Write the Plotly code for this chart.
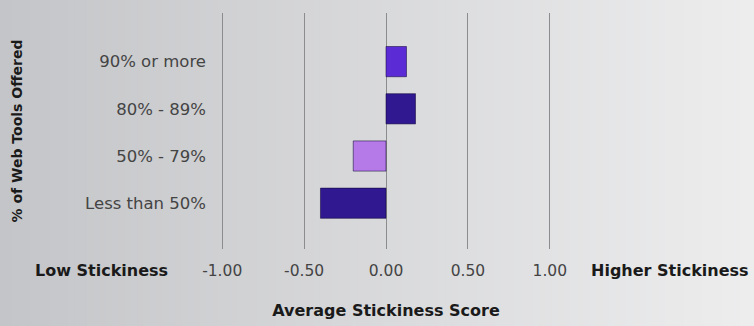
import plotly.graph_objects as go

# Survey groups and their average stickiness scores
categories = ["Less than 50%", "50% - 79%", "80% - 89%", "90% or more"]
scores = [-0.40, -0.20, 0.18, 0.125]
bar_colors = ["#2f1890", "#b57ae8", "#2f1890", "#5b2bd6"]
tick_values = [-1.0, -0.5, 0.0, 0.5, 1.0]
tick_labels = ["-1.00", "-0.50", "0.00", "0.50", "1.00"]

W, H = 754, 326
ML, MR, MT, MB = 214, 196, 13, 77
XMIN, XMAX = -1.05, 1.05

fig = go.Figure()
fig.add_trace(go.Bar(
    x=scores,
    y=list(range(len(categories))),
    orientation="h",
    width=0.64,
    marker=dict(color=bar_colors, line=dict(color="rgba(20,10,60,0.55)", width=1)),
    hoverinfo="skip",
))

# Horizontal grey gradient background built from thin strips
shapes = []
n = 120
plot_w = W - ML - MR
plot_h = H - MT - MB
left_c = (196, 197, 200)
right_c = (237, 237, 238)
for i in range(n):
    t = i / (n - 1)
    c = tuple(round(left_c[k] + (right_c[k] - left_c[k]) * t) for k in range(3))
    px0 = W * i / n - 1
    px1 = W * (i + 1) / n + 1
    shapes.append(dict(
        type="rect", layer="below", line=dict(width=0),
        xref="paper", yref="paper",
        x0=(px0 - ML) / plot_w, x1=(px1 - ML) / plot_w,
        y0=-MB / plot_h - 0.05, y1=1 + MT / plot_h + 0.05,
        fillcolor="rgb(%d,%d,%d)" % c,
    ))

light_font = "'DejaVu Sans', sans-serif"
bold_font = "'DejaVu Sans', sans-serif"

annotations = [
    dict(text="<b>Low Stickiness</b>", x=170, y=270, xref="paper", yref="paper",
         showarrow=False, xanchor="right", yanchor="middle",
         font=dict(family=bold_font, size=16, color="#1a1a1a")),
    dict(text="<b>Higher Stickiness</b>", x=589, y=270, xref="paper", yref="paper",
         showarrow=False, xanchor="left", yanchor="middle",
         font=dict(family=bold_font, size=16, color="#1a1a1a")),
]
# convert pixel positions to paper coordinates
for a in annotations:
    a["x"] = (a["x"] - ML) / plot_w
    a["y"] = 1 - (a["y"] - MT) / plot_h

fig.update_layout(
    width=W, height=H,
    margin=dict(l=ML, r=MR, t=MT, b=MB, pad=0, autoexpand=False),
    paper_bgcolor="#d8d9da",
    plot_bgcolor="rgba(0,0,0,0)",
    showlegend=False,
    shapes=shapes,
    annotations=annotations,
    xaxis=dict(
        range=[XMIN, XMAX],
        tickvals=tick_values, ticktext=tick_labels,
        showgrid=True, gridcolor="#8c8c8c", gridwidth=1,
        zeroline=False, showline=False, ticks="",
        tickfont=dict(family=light_font, size=15.5, color="#444444"),
        ticklabelstandoff=10,
        automargin=False,
        title=dict(text="<b>Average Stickiness Score</b>", standoff=26,
                   font=dict(family=bold_font, size=16, color="#1a1a1a")),
        fixedrange=True,
    ),
    yaxis=dict(
        range=[-0.97, 4.03],
        tickvals=list(range(len(categories))), ticktext=categories,
        showgrid=False, zeroline=False, showline=False, ticks="",
        tickfont=dict(family=light_font, size=16.5, color="#444444"),
        ticklabelstandoff=7,
        automargin=False,
        title=dict(text="<b>% of Web Tools Offered</b>", standoff=59,
                   font=dict(family=bold_font, size=14, color="#1a1a1a")),
        fixedrange=True,
    ),
)

fig.write_html("out.html", config={"displayModeBar": False})
